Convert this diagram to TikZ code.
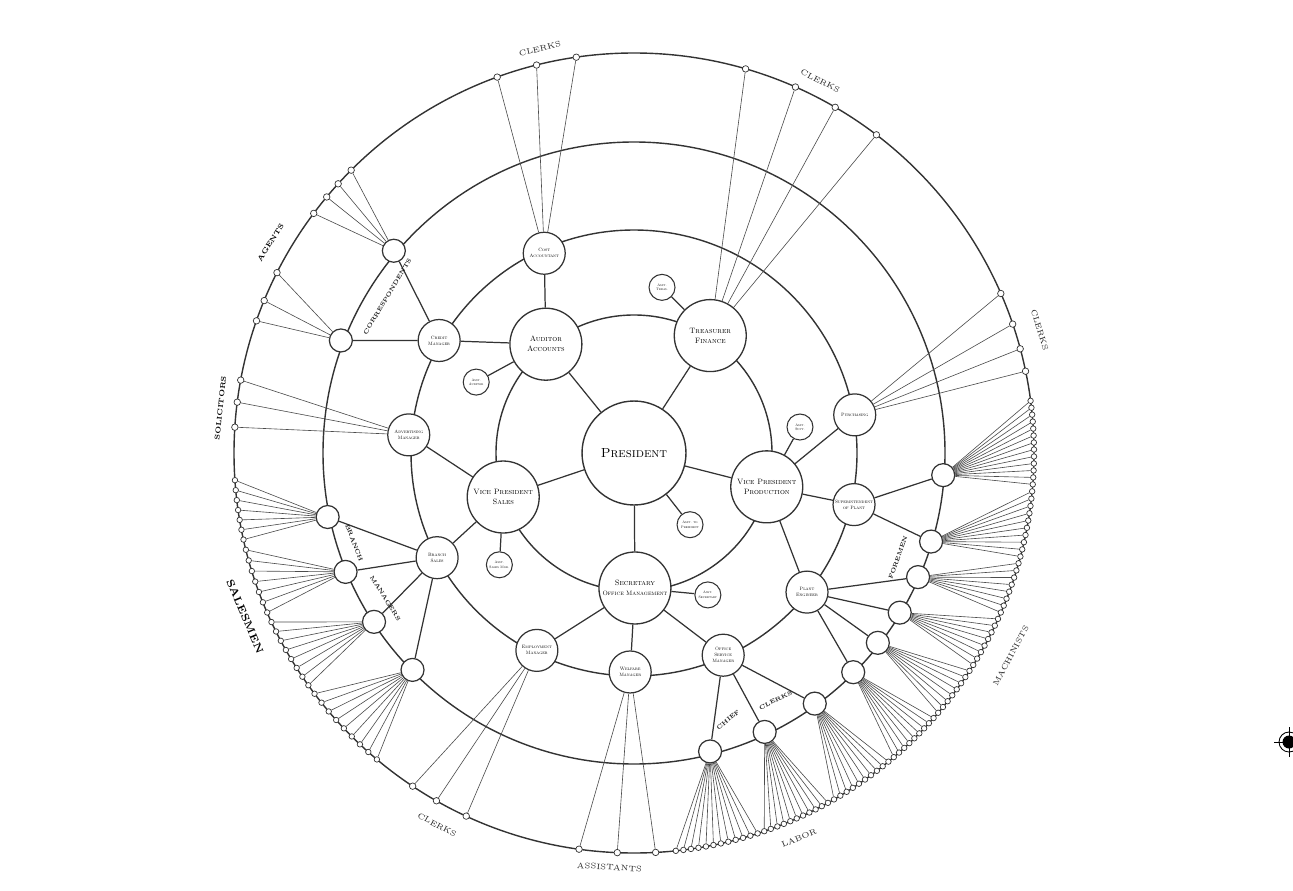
\documentclass[tikz,border=0pt]{standalone}
\usepackage{fontspec}

\begin{document}
\begin{tikzpicture}[x=0.02cm, y=0.02cm,
    orbitLine/.style={draw=black!80, line width=0.8pt},
    tieLine/.style={draw=black!80, line width=0.7pt},
    fanLine/.style={draw=black!70, line width=0.35pt},
    chiefBig/.style={circle, draw=black!80, line width=0.8pt, fill=white, minimum size=2.08cm, inner sep=0pt, font=\fontsize{7.5}{8}\selectfont\scshape},
    officeBig/.style={circle, draw=black!80, line width=0.75pt, fill=white, minimum size=1.44cm, inner sep=0pt, align=center, font=\fontsize{4.4}{5.6}\selectfont\scshape},
    officeMid/.style={circle, draw=black!80, line width=0.7pt, fill=white, minimum size=0.84cm, inner sep=0pt, align=center, font=\fontsize{2.7}{3.4}\selectfont\scshape},
    helperDot/.style={circle, draw=black!80, line width=0.6pt, fill=white, minimum size=0.52cm, inner sep=0pt, align=center, font=\fontsize{2}{2.5}\selectfont\scshape},
    stationDot/.style={circle, draw=black!80, line width=0.7pt, fill=white, minimum size=0.46cm, inner sep=0pt},
    rimDot/.style={circle, draw=black!80, line width=0.4pt, fill=white, minimum size=0.13cm, inner sep=0pt},
    rimLabel/.style={inner sep=0pt, text=black!85, font=\fontsize{4.5}{5}\selectfont\addfontfeature{LetterSpace=30}},
    innerLabel/.style={inner sep=0pt, text=black!90, font=\bfseries\fontsize{3.4}{4}\selectfont\addfontfeature{LetterSpace=15}},
    heavyLabel/.style={inner sep=0pt, text=black, font=\bfseries\fontsize{6}{7}\selectfont\addfontfeature{LetterSpace=12}}
  ]
\useasboundingbox (0,0) rectangle (1293,890);

\begin{scope}[shift={(634,437)}]
% the four orbits
\draw[orbitLine] (0,0) circle[radius=138];
\draw[orbitLine] (0,0) circle[radius=223];
\draw[orbitLine] (0,0) circle[radius=311];
\draw[orbitLine] (0,0) circle[radius=400];

% centre and first orbit
\node[chiefBig] (president) at (0,0) {President};
\node[officeBig] (auditorAccounts) at (129:140) {Auditor\\Accounts};
\node[officeBig] (treasurerFinance) at (57:140) {Treasurer\\Finance};
\node[officeBig] (vpProduction) at (-14.3:137) {Vice President\\Production};
\node[officeBig] (secretaryOffice) at (-89.6:135) {Secretary\\{\fontsize{3.6}{4.4}\selectfont Office Management}};
\node[officeBig] (vpSales) at (198.6:138) {Vice President\\Sales};

% assistants
\node[helperDot] (asstTreasurer) at (80.4:168) {Asst.\\Treas.};
\node[helperDot] (asstAuditor) at (155.8:173) {Asst.\\Auditor};
\node[helperDot] (asstSales) at (219.7:175) {Asst.\\Sales Mgr.};
\node[helperDot] (asstPresident) at (-52:91) {Asst. to\\President};
\node[helperDot] (asstProduction) at (8.9:168) {Asst.\\Supt.};
\node[helperDot] (asstSecretary) at (-62.5:160) {Asst.\\Secretary};

% second orbit
\node[officeMid] (costAccountant) at (114.2:219) {Cost\\Accountant};
\node[officeMid] (creditManager) at (150:225) {Credit\\Manager};
\node[officeMid] (advertisingManager) at (175.4:226) {Advertising\\Manager};
\node[officeMid] (branchSales) at (208:223) {Branch\\Sales};
\node[officeMid] (employmentManager) at (243.8:220) {Employment\\Manager};
\node[officeMid] (welfareManager) at (269:219) {Welfare\\Manager};
\node[officeMid] (officeService) at (-66.2:221) {Office\\Service\\Manager};
\node[officeMid] (plantEngineer) at (-38.8:222) {Plant\\Engineer};
\node[officeMid] (plantSupt) at (-13.2:226) {Superintendent\\of Plant};
\node[officeMid] (purchasingAgent) at (9.8:224) {Purchasing};

% third orbit
\node[stationDot] (agencyA) at (139.9:314) {};
\node[stationDot] (agencyB) at (159:314) {};
\node[stationDot] (branchA) at (191.8:313) {};
\node[stationDot] (branchB) at (202.4:312) {};
\node[stationDot] (branchC) at (213:310) {};
\node[stationDot] (branchD) at (224.4:310) {};
\node[stationDot] (foremanA) at (-4.1:310) {};
\node[stationDot] (foremanB) at (-16.6:310) {};
\node[stationDot] (foremanC) at (-23.6:310) {};
\node[stationDot] (foremanD) at (-31:310) {};
\node[stationDot] (foremanE) at (-37.9:309) {};
\node[stationDot] (foremanF) at (-45:310) {};
\node[stationDot] (foremanG) at (-54.2:309) {};
\node[stationDot] (foremanH) at (-64.9:308) {};
\node[stationDot] (foremanI) at (-75.7:308) {};

% lines of authority
\draw[tieLine] (president) -- (auditorAccounts);
\draw[tieLine] (president) -- (treasurerFinance);
\draw[tieLine] (president) -- (vpProduction);
\draw[tieLine] (president) -- (secretaryOffice);
\draw[tieLine] (president) -- (vpSales);
\draw[tieLine] (president) -- (asstPresident);
\draw[tieLine] (treasurerFinance) -- (asstTreasurer);
\draw[tieLine] (auditorAccounts) -- (asstAuditor);
\draw[tieLine] (vpSales) -- (asstSales);
\draw[tieLine] (vpProduction) -- (asstProduction);
\draw[tieLine] (secretaryOffice) -- (asstSecretary);

\draw[tieLine] (auditorAccounts) -- (costAccountant);
\draw[tieLine] (auditorAccounts) -- (creditManager);
\draw[tieLine] (vpSales) -- (advertisingManager);
\draw[tieLine] (vpSales) -- (branchSales);
\draw[tieLine] (secretaryOffice) -- (employmentManager);
\draw[tieLine] (secretaryOffice) -- (welfareManager);
\draw[tieLine] (secretaryOffice) -- (officeService);
\draw[tieLine] (vpProduction) -- (plantEngineer);
\draw[tieLine] (vpProduction) -- (plantSupt);
\draw[tieLine] (vpProduction) -- (purchasingAgent);

\draw[tieLine] (creditManager) -- (agencyA);
\draw[tieLine] (creditManager) -- (agencyB);
\draw[tieLine] (branchSales) -- (branchA);
\draw[tieLine] (branchSales) -- (branchB);
\draw[tieLine] (branchSales) -- (branchC);
\draw[tieLine] (branchSales) -- (branchD);
\draw[tieLine] (plantSupt) -- (foremanA);
\draw[tieLine] (plantSupt) -- (foremanB);
\draw[tieLine] (plantEngineer) -- (foremanC);
\draw[tieLine] (plantEngineer) -- (foremanD);
\draw[tieLine] (plantEngineer) -- (foremanE);
\draw[tieLine] (plantEngineer) -- (foremanF);
\draw[tieLine] (officeService) -- (foremanG);
\draw[tieLine] (officeService) -- (foremanH);
\draw[tieLine] (officeService) -- (foremanI);

% clerks on the rim
\foreach \ang [count=\k] in {110,104.1,98.3} {
  \node[rimDot] (costClerk-\k) at (\ang:400) {};
  \draw[fanLine] (costAccountant) -- (costClerk-\k);
}
\foreach \ang [count=\k] in {73.8,66.2,59.8,52.7} {
  \node[rimDot] (treasuryClerk-\k) at (\ang:400) {};
  \draw[fanLine] (treasurerFinance) -- (treasuryClerk-\k);
}
\foreach \ang [count=\k] in {23.5,18.8,15.1,11.8} {
  \node[rimDot] (purchaseClerk-\k) at (\ang:400) {};
  \draw[fanLine] (purchasingAgent) -- (purchaseClerk-\k);
}
\foreach \ang [count=\k] in {135,137.7,140.2,143.2} {
  \node[rimDot] (agentA-\k) at (\ang:400) {};
  \draw[fanLine] (agencyA) -- (agentA-\k);
}
\foreach \ang [count=\k] in {153.2,157.6,160.7} {
  \node[rimDot] (agentB-\k) at (\ang:400) {};
  \draw[fanLine] (agencyB) -- (agentB-\k);
}
\foreach \ang [count=\k] in {169.5,172.7,176.3} {
  \node[rimDot] (adClerk-\k) at (\ang:400) {};
  \draw[fanLine] (advertisingManager) -- (adClerk-\k);
}
\foreach \ang [count=\k] in {236.4,240.4,245.2} {
  \node[rimDot] (employClerk-\k) at (\ang:400) {};
  \draw[fanLine] (employmentManager) -- (employClerk-\k);
}
\foreach \ang [count=\k] in {262.1,267.6,273.1} {
  \node[rimDot] (welfareAsst-\k) at (\ang:400) {};
  \draw[fanLine] (welfareManager) -- (welfareAsst-\k);
}

% salesmen and workmen fans
\foreach \who/\from/\to/\num in {branchA/183.9/192.5/6, branchB/194/203.5/6, branchC/205/215.5/7, branchD/217/230/8,
    foremanA/7.5/-4.5/12, foremanB/-5.5/-15/9, foremanC/-16/-23.5/7, foremanD/-24.5/-32/7, foremanE/-33/-40.5/7,
    foremanF/-41.5/-49.5/8, foremanG/-50.5/-60/9, foremanH/-61/-71/10, foremanI/-72/-84/11} {
  \foreach \k in {0,...,\num} {
    \pgfmathsetmacro{\ang}{\from+(\to-\from)*\k/\num}
    \node[rimDot, minimum size=0.11cm] (\who-\k) at (\ang:400) {};
    \draw[fanLine] (\who) -- (\who-\k);
  }
}

% group names
\node[rimLabel, rotate=13] (lblClerksA) at (103.1:415) {CLERKS};
\node[rimLabel, rotate=-26.6] (lblClerksB) at (63.4:416) {CLERKS};
\node[rimLabel, rotate=-73] (lblClerksC) at (16.9:424) {CLERKS};
\node[rimLabel, rotate=62] (lblMachinists) at (-28.3:428) {MACHINISTS};
\node[rimLabel, rotate=23] (lblLabor) at (-66.8:419) {LABOR};
\node[rimLabel, rotate=-3.4] (lblAssistants) at (-93.4:415) {ASSISTANTS};
\node[rimLabel, rotate=-28] (lblClerksD) at (242.1:421) {CLERKS};
\node[heavyLabel, rotate=-67] (lblSalesmen) at (202.8:422) {SALESMEN};
\node[heavyLabel, rotate=84, font=\bfseries\fontsize{4}{5}\selectfont] (lblSolicitors) at (173.8:416) {SOLICITORS};
\node[heavyLabel, rotate=58, font=\bfseries\fontsize{4}{5}\selectfont] (lblAgents) at (149.9:420) {AGENTS};
\node[innerLabel, rotate=59] (lblAgencies) at (147.6:292) {CORRESPONDENTS};
\node[innerLabel, rotate=70] (lblForemen) at (-21.6:284) {FOREMEN};
\node[innerLabel, rotate=-69] (lblBranch) at (197.8:294) {BRANCH};
\node[innerLabel, rotate=-58] (lblManagers) at (210.3:288) {MANAGERS};
\node[innerLabel, rotate=40] (lblChief) at (-70.6:283) {CHIEF};
\node[innerLabel, rotate=26] (lblChiefClerks) at (-60.2:285) {CLERKS};
\end{scope}

% register mark at the right edge
\draw[line width=0.5pt] (1289,148) circle[radius=10];
\fill (1289,148) circle[radius=6.5];
\draw[line width=0.5pt] (1274,148) -- (1293,148);
\draw[line width=0.5pt] (1289,133) -- (1289,163);
\end{tikzpicture}
\end{document}
